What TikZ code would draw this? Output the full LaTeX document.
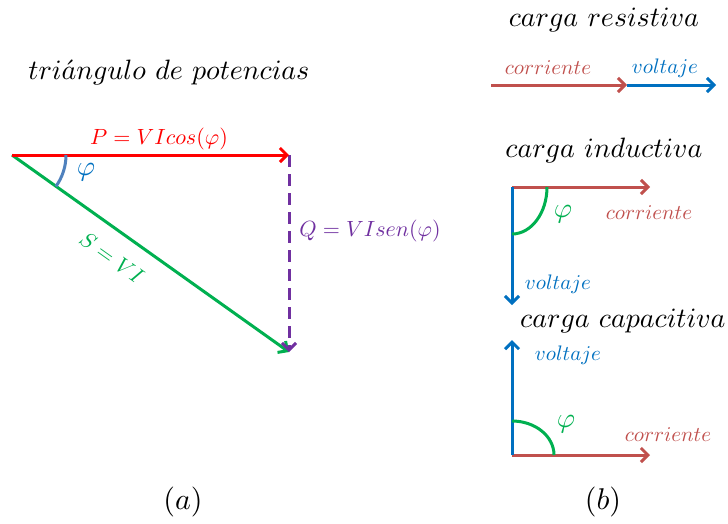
\documentclass[tikz,border=0pt]{standalone}
\usetikzlibrary{arrows.meta}
\definecolor{pred}{RGB}{255,0,0}
\definecolor{sgreen}{RGB}{0,176,80}
\definecolor{arcblue}{RGB}{79,129,189}
\definecolor{vblue}{RGB}{0,112,192}
\definecolor{qpurple}{RGB}{112,48,160}
\definecolor{cred}{RGB}{192,80,77}
\tikzset{
  vec/.style={line width=3pt,-{Straight Barb[length=7pt,width=14pt,line width=3pt]}},
  lbl/.style={inner sep=0pt,scale=2.1},
  big/.style={inner sep=0pt,scale=2.2},
  phil/.style={inner sep=0pt,scale=2.8},
  ttl/.style={inner sep=0pt,scale=2.8},
  sub/.style={inner sep=0pt,scale=3.0},
}
\begin{document}
\begin{tikzpicture}[x=1pt,y=-1pt]
\useasboundingbox (0,0) rectangle (728,523);
% (a) power triangle
\node[ttl] (tt) at (169,72) {$tri\acute{a}ngulo\ de\ potencias$};
\coordinate (O) at (12,155);
\coordinate (Pend) at (289,155);
\coordinate (Send) at (289,352);
\draw[vec,color=sgreen] (O) -- (Send);
\draw[vec,color=qpurple,dashed,dash pattern=on 12pt off 7pt] (Pend) -- (Send);
\draw[vec,color=pred] (O) -- (Pend);
\draw[line width=3pt,color=arcblue] ([shift={(0:54)}]O) arc[start angle=0,end angle=35.5,radius=54];
\node[big,text=pred] (pl) at (159,139) {$P=VIcos(\varphi)$};
\node[phil,text=vblue] (phia) at (86,172) {$\varphi$};
\node[big,text=sgreen,rotate=-35.5] (sl) at (112,258) {$S=VI$};
\node[big,text=qpurple] (ql) at (370,231) {$Q=VIsen(\varphi)$};
\node[sub] (la) at (183,502) {$(a)$};
% (b) resistive
\node[ttl] (tr) at (604,20) {$carga\ resistiva$};
\coordinate (r0) at (491,85);
\coordinate (r1) at (627,85);
\coordinate (r2) at (716,85);
\draw[vec,color=cred] (r0) -- (r1);
\draw[vec,color=vblue] (r1) -- (r2);
\node[lbl,text=cred] (rc) at (548,68) {$corriente$};
\node[lbl,text=vblue] (rv) at (665,68) {$voltaje$};
% inductive
\node[ttl] (ti) at (604,150) {$carga\ inductiva$};
\coordinate (i0) at (512,187);
\coordinate (i1) at (650,187);
\coordinate (i2) at (512,305);
\draw[vec,color=cred] (i0) -- (i1);
\draw[vec,color=vblue] (i0) -- (i2);
\draw[line width=3pt,color=sgreen] ([xshift=35pt]i0) arc[start angle=0,end angle=90,x radius=35,y radius=47];
\node[phil,text=sgreen] (phii) at (563,214) {$\varphi$};
\node[lbl,text=cred] (ic) at (649,213) {$corriente$};
\node[lbl,text=vblue] (iv) at (558,284) {$voltaje$};
% capacitive
\node[ttl] (tc) at (623,321) {$carga\ capacitiva$};
\coordinate (c0) at (512,455);
\coordinate (c1) at (650,455);
\coordinate (c2) at (512,340);
\draw[vec,color=cred] (c0) -- (c1);
\draw[vec,color=vblue] (c0) -- (c2);
\draw[line width=3pt,color=sgreen] ([xshift=42pt]c0) arc[start angle=0,end angle=-90,x radius=42,y radius=34];
\node[phil,text=sgreen] (phic) at (566,424) {$\varphi$};
\node[lbl,text=cred] (cc) at (668,435) {$corriente$};
\node[lbl,text=vblue] (cv) at (568,355) {$voltaje$};
\node[sub] (lb) at (603,502) {$(b)$};
\end{tikzpicture}
\end{document}
